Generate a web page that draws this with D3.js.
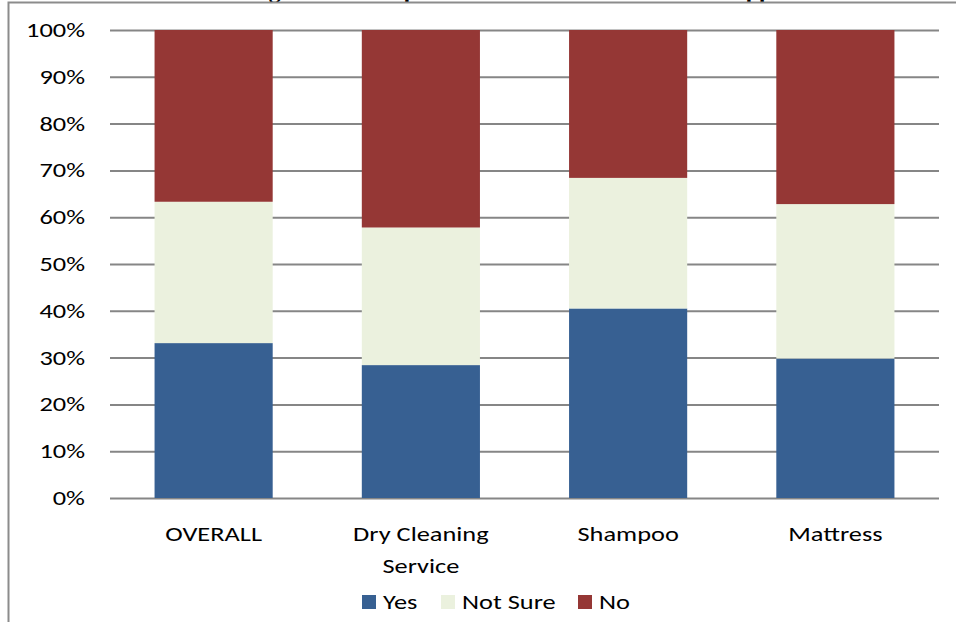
<!DOCTYPE html>
<html>
<head>
<meta charset="utf-8">
<script src="https://cdn.jsdelivr.net/npm/d3@7"></script>
<style>
  html, body { margin: 0; padding: 0; background: #fff; }
  svg { display: block; }
  .lbl { font-family: Carlito, Lato, "Noto Sans", sans-serif; font-size: 20px; fill: #000; }
</style>
</head>
<body>
<svg id="chart" width="956" height="622"></svg>
<script>
// Survey responses per category, shares in percent
const categories = ["OVERALL", "Dry Cleaning Service", "Shampoo", "Mattress"];
const categoryLines = [["OVERALL"], ["Dry Cleaning", "Service"], ["Shampoo"], ["Mattress"]];
const seriesNames = ["Yes", "Not Sure", "No"];
const yesValues = [33.1, 28.4, 40.5, 29.8];
const notSureValues = [30.2, 29.4, 27.9, 33.0];
const noValues = [36.7, 42.2, 31.6, 37.2];
const yTicks = [0, 10, 20, 30, 40, 50, 60, 70, 80, 90, 100];
const colors = ["#376092", "#EBF1DE", "#953735"];
const titleText = "Knowing the Real Impact of the Eco-Labels on Retail Approval";

const svg = d3.select("#chart");
const plotLeft = 110, plotRight = 939, plotTop = 30, plotBottom = 498;
const stretchX = 1.32; // labels are drawn horizontally widened

const rows = categories.map((c, i) => ({
  category: c,
  "Yes": yesValues[i],
  "Not Sure": notSureValues[i],
  "No": noValues[i]
}));

const x = d3.scaleBand().domain(categories).range([plotLeft, plotRight]).paddingInner(0.43).paddingOuter(0.215);
const y = d3.scaleLinear().domain([0, 100]).range([plotBottom, plotTop]);

// Draws a widened label anchored at (px, py)
function label(parent, px, py, str, anchor) {
  return parent.append("text")
    .attr("class", "lbl")
    .attr("text-anchor", anchor || "start")
    .attr("transform", `translate(${px},${py}) scale(${stretchX},1)`)
    .text(str);
}

// Title (sits above the frame)
svg.append("text")
  .attr("x", 189).attr("y", -2)
  .attr("font-family", "'Liberation Serif', 'Times New Roman', serif")
  .attr("font-weight", "bold")
  .attr("font-size", 23.5)
  .attr("fill", "#000")
  .text(titleText);

// Frame
svg.append("rect")
  .attr("x", 8.5).attr("y", 2.5)
  .attr("width", 1000).attr("height", 700)
  .attr("fill", "none").attr("stroke", "#8c8c8c").attr("stroke-width", 2);

// Gridlines
const yAxis = d3.axisLeft(y).tickValues(yTicks).tickSize(-(plotRight - plotLeft)).tickFormat("");
const gy = svg.append("g").attr("transform", `translate(${plotLeft},0)`).call(yAxis);
gy.select(".domain").remove();
gy.selectAll(".tick line").attr("stroke", "#868686").attr("stroke-width", 2);

// Y labels
const gyl = svg.append("g");
yTicks.forEach(t => label(gyl, 85, y(t) + 7, t + "%", "end"));

// Stacked bars
const stack = d3.stack().keys(seriesNames)(rows);
svg.append("g").selectAll("g")
  .data(stack)
  .join("g")
  .attr("fill", (d, i) => colors[i])
  .selectAll("rect")
  .data(d => d)
  .join("rect")
  .attr("x", d => x(d.data.category))
  .attr("width", x.bandwidth())
  .attr("y", d => y(d[1]))
  .attr("height", d => y(d[0]) - y(d[1]));

// Category labels
const gx = svg.append("g");
categories.forEach((c, i) => {
  categoryLines[i].forEach((line, j) => {
    label(gx, x(c) + x.bandwidth() / 2, 541 + j * 32, line, "middle");
  });
});

// Legend
const legendX = [362, 441, 578];
const leg = svg.append("g");
seriesNames.forEach((s, i) => {
  leg.append("rect")
    .attr("x", legendX[i]).attr("y", 595)
    .attr("width", 14).attr("height", 14)
    .attr("fill", colors[i]);
  label(leg, legendX[i] + 21, 609, s, "start");
});
</script>
</body>
</html>
